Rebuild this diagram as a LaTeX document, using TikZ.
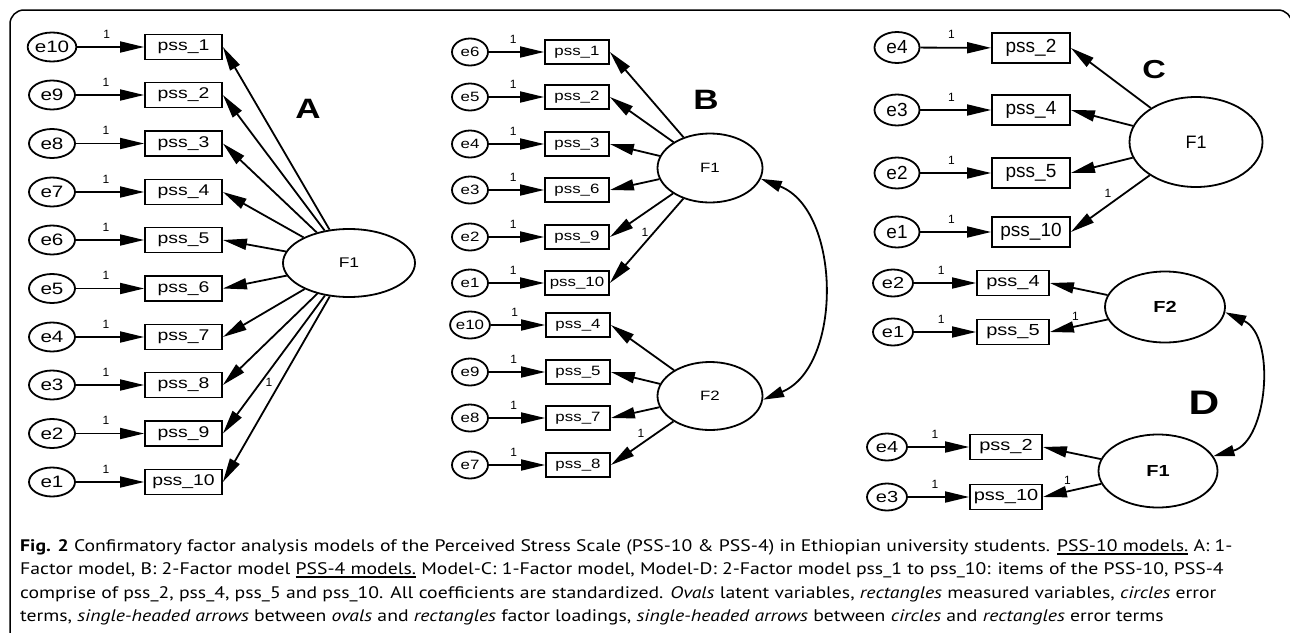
\documentclass[tikz,border=0pt]{standalone}
\usepackage{fontspec}
\setmainfont[FakeStretch=1.18]{PT Sans}
\newfontfamily\dgfont[FakeStretch=1.25]{Liberation Sans}
\newfontfamily\dgplain{Liberation Sans}
\usetikzlibrary{arrows.meta,shapes.geometric}

\newcommand{\ulnk}[1]{\setbox0\hbox{#1}\rlap{\rule[-3.5pt]{\wd0}{2pt}}\box0\relax}

\tikzset{errA/.style={main, ellipse, minimum width=46pt, minimum height=29pt, font=\dgfont\fontsize{16.5}{16.5}\selectfont}}
\tikzset{itemA/.style={main, rectangle, minimum width=77pt, minimum height=25pt, font=\dgfont\fontsize{15.5}{15.5}\selectfont}}
\tikzset{errB/.style={main, ellipse, minimum width=36pt, minimum height=27pt, font=\dgfont\fontsize{13.5}{13.5}\selectfont}}
\tikzset{itemB/.style={main, rectangle, minimum width=64pt, minimum height=24pt, font=\dgfont\fontsize{13.5}{13.5}\selectfont}}
\tikzset{errC/.style={main, ellipse, minimum width=45pt, minimum height=31pt, font=\dgplain\fontsize{19}{19}\selectfont}}
\tikzset{itemC/.style={main, rectangle, minimum width=78pt, minimum height=30pt, font=\dgplain\fontsize{19}{19}\selectfont}}
\tikzset{errD/.style={main, ellipse, minimum width=40pt, minimum height=27pt, font=\dgfont\fontsize{16}{16}\selectfont}}
\tikzset{itemD/.style={main, rectangle, minimum width=72pt, minimum height=25pt, font=\dgfont\fontsize{16}{16}\selectfont}}
\tikzset{lat/.style={main, ellipse, font=\dgfont\fontsize{14}{14}\selectfont}}
\tikzset{arr/.style={-{Triangle[length=24pt,width=11pt]}, line width=1.8pt}}
\tikzset{cov/.style={{Triangle[length=21pt,width=11pt]}-{Triangle[length=21pt,width=11pt]}, line width=1.8pt}}
\tikzset{one/.style={inner sep=0pt, font=\dgplain\fontsize{12}{12}\selectfont}}
\tikzset{eone/.style={one, pos=0.44, yshift=13pt}}
\tikzset{big/.style={inner sep=0pt, font=\dgfont\bfseries\fontsize{28}{28}\selectfont}}
\tikzset{capline/.style={anchor=base west, inner sep=0pt, font=\fontsize{16.7}{20}\selectfont}}

\begin{document}
\begin{tikzpicture}[x=1pt, y=-1pt, main/.style={draw, line width=1.8pt, inner sep=0pt}]
    \useasboundingbox (0,0) rectangle (1290,632);
    \clip (0,0) rectangle (1290,632);
    \draw[line width=1.5pt, rounded corners=14pt] (10,660) -- (10,10) -- (1292,10) -- (1292,660);

    % A: 1-factor PSS-10
    \node[errA] (ae10) at (52,47) {e10};
    \node[errA] (ae9) at (52,95) {e9};
    \node[errA] (ae8) at (52,143.5) {e8};
    \node[errA] (ae7) at (52,192) {e7};
    \node[errA] (ae6) at (52,240) {e6};
    \node[errA] (ae5) at (52,288.5) {e5};
    \node[errA] (ae4) at (52,337) {e4};
    \node[errA] (ae3) at (52,385) {e3};
    \node[errA] (ae2) at (52,433.5) {e2};
    \node[errA] (ae1) at (52,482) {e1};
    \node[itemA] (ap1) at (183.5,47) {pss\_1};
    \node[itemA] (ap2) at (183.5,95) {pss\_2};
    \node[itemA] (ap3) at (183.5,143.5) {pss\_3};
    \node[itemA] (ap4) at (183.5,192) {pss\_4};
    \node[itemA] (ap5) at (183.5,240) {pss\_5};
    \node[itemA] (ap6) at (183.5,288.5) {pss\_6};
    \node[itemA] (ap7) at (183.5,337) {pss\_7};
    \node[itemA] (ap8) at (183.5,385) {pss\_8};
    \node[itemA] (ap9) at (183.5,433.5) {pss\_9};
    \node[itemA] (ap10) at (183.5,482) {pss\_10};
    \node[lat, minimum width=132pt, minimum height=68pt] (aF1) at (349,263) {F1};
    \node[big] (aA) at (308,109) {A};

    \draw[arr] (ae10) -- node[eone] {1} (ap1);
    \draw[arr] (ae9) -- node[eone] {1} (ap2);
    \draw[arr] (ae8) -- node[eone] {1} (ap3);
    \draw[arr] (ae7) -- node[eone] {1} (ap4);
    \draw[arr] (ae6) -- node[eone] {1} (ap5);
    \draw[arr] (ae5) -- node[eone] {1} (ap6);
    \draw[arr] (ae4) -- node[eone] {1} (ap7);
    \draw[arr] (ae3) -- node[eone] {1} (ap8);
    \draw[arr] (ae2) -- node[eone] {1} (ap9);
    \draw[arr] (ae1) -- node[eone] {1} (ap10);
    \draw[arr] (aF1) -- (ap1.east);
    \draw[arr] (aF1) -- (ap2.east);
    \draw[arr] (aF1) -- (ap3.east);
    \draw[arr] (aF1) -- (ap4.east);
    \draw[arr] (aF1) -- (ap5.east);
    \draw[arr] (aF1) -- (ap6.east);
    \draw[arr] (aF1) -- (ap7.east);
    \draw[arr] (aF1) -- (ap8.east);
    \draw[arr] (aF1) -- (ap9.east);
    \draw[arr] (aF1) -- node[one, pos=0.465, xshift=-11pt] {1} (ap10.east);

    % B: 2-factor PSS-10
    \node[errB] (be6) at (470,52) {e6};
    \node[errB] (be5) at (470,97) {e5};
    \node[errB] (be4) at (470,144) {e4};
    \node[errB] (be3) at (470,190) {e3};
    \node[errB] (be2) at (470,237) {e2};
    \node[errB] (be1) at (470,283) {e1};
    \node[errB] (be10) at (470,325) {e10};
    \node[errB] (be9) at (470,372) {e9};
    \node[errB] (be8) at (470,418) {e8};
    \node[errB] (be7) at (470,465) {e7};
    \node[itemB] (bp1) at (577,52) {pss\_1};
    \node[itemB] (bp2) at (577,97) {pss\_2};
    \node[itemB] (bp3) at (577,144) {pss\_3};
    \node[itemB] (bp6) at (577,190) {pss\_6};
    \node[itemB] (bp9) at (577,237) {pss\_9};
    \node[itemB] (bp10) at (577,283) {pss\_10};
    \node[itemB] (bp4) at (578,325) {pss\_4};
    \node[itemB] (bp5) at (578,372) {pss\_5};
    \node[itemB] (bp7) at (578,418) {pss\_7};
    \node[itemB] (bp8) at (578,465) {pss\_8};
    \node[lat, minimum width=105pt, minimum height=69pt, font=\dgfont\fontsize{13.5}{13.5}\selectfont] (bF1) at (710,168) {F1};
    \node[lat, minimum width=105pt, minimum height=68pt, font=\dgfont\fontsize{13.5}{13.5}\selectfont] (bF2) at (710,396) {F2};
    \node[big] (bB) at (706,100) {B};

    \draw[arr] (be6) -- node[eone] {1} (bp1);
    \draw[arr] (be5) -- node[eone] {1} (bp2);
    \draw[arr] (be4) -- node[eone] {1} (bp3);
    \draw[arr] (be3) -- node[eone] {1} (bp6);
    \draw[arr] (be2) -- node[eone] {1} (bp9);
    \draw[arr] (be1) -- node[eone] {1} (bp10);
    \draw[arr] (be10) -- node[eone] {1} (bp4);
    \draw[arr] (be9) -- node[eone] {1} (bp5);
    \draw[arr] (be8) -- node[eone] {1} (bp7);
    \draw[arr] (be7) -- node[eone] {1} (bp8);
    \draw[arr] (bF1) -- (bp1.east);
    \draw[arr] (bF1) -- (bp2.east);
    \draw[arr] (bF1) -- (bp3.east);
    \draw[arr] (bF1) -- (bp6.east);
    \draw[arr] (bF1) -- (bp9.east);
    \draw[arr] (bF1) -- node[one, pos=0.4, xshift=-9pt] {1} (bp10.east);
    \draw[arr] (bF2) -- (bp4.east);
    \draw[arr] (bF2) -- (bp5.east);
    \draw[arr] (bF2) -- (bp7.east);
    \draw[arr] (bF2) -- node[one, pos=0.52, yshift=11pt] {1} (bp8.east);
    \draw[cov] (bF1.-12) to[bend left=68] (bF2.-4);

    % C: 1-factor PSS-4
    \node[errC] (ce4) at (897,47.5) {e4};
    \node[errC] (ce3) at (897,110) {e3};
    \node[errC] (ce2) at (897,173) {e2};
    \node[errC] (ce1) at (897,232) {e1};
    \node[itemC] (cp2) at (1031,48) {pss\_2};
    \node[itemC] (cp4) at (1031,110) {pss\_4};
    \node[itemC] (cp5) at (1031,173) {pss\_5};
    \node[itemC] (cp10) at (1031,232) {pss\_10};
    \node[lat, minimum width=133pt, minimum height=90pt, font=\dgplain\fontsize{18}{18}\selectfont] (cF1) at (1196,142) {F1};
    \node[big, font=\dgfont\bfseries\fontsize{26}{26}\selectfont] (cC) at (1154,70) {C};

    \draw[arr] (ce4) -- node[eone] {1} (cp2);
    \draw[arr] (ce3) -- node[eone] {1} (cp4);
    \draw[arr] (ce2) -- node[eone] {1} (cp5);
    \draw[arr] (ce1) -- node[eone] {1} (cp10);
    \draw[arr] (cF1) -- (cp2.east);
    \draw[arr] (cF1) -- (cp4.east);
    \draw[arr] (cF1) -- (cp5.east);
    \draw[arr] (cF1) -- node[one, pos=0.53, yshift=12pt] {1} (cp10.east);

    % D: 2-factor PSS-4
    \node[errD] (de2) at (893,283) {e2};
    \node[errD] (de1) at (893,332) {e1};
    \node[errD] (de4) at (887,447) {e4};
    \node[errD] (de3) at (887,497) {e3};
    \node[itemD] (dp4) at (1013,283) {pss\_4};
    \node[itemD] (dp5) at (1013,332) {pss\_5};
    \node[itemD] (dp2) at (1006,447) {pss\_2};
    \node[itemD] (dp10) at (1006,497) {pss\_10};
    \node[lat, minimum width=120pt, minimum height=71pt, font=\dgfont\bfseries\fontsize{16}{16}\selectfont] (dF2) at (1165,307) {F2};
    \node[lat, minimum width=119pt, minimum height=73pt, font=\dgfont\bfseries\fontsize{16}{16}\selectfont] (dF1) at (1158,471) {F1};
    \node[big, font=\dgfont\bfseries\fontsize{34}{34}\selectfont] (dD) at (1204,403) {D};

    \draw[arr] (de2) -- node[eone] {1} (dp4);
    \draw[arr] (de1) -- node[eone] {1} (dp5);
    \draw[arr] (de4) -- node[eone] {1} (dp2);
    \draw[arr] (de3) -- node[eone] {1} (dp10);
    \draw[arr] (dF2) -- (dp4.east);
    \draw[arr] (dF2) -- node[one, pos=0.56, yshift=10pt] {1} (dp5.east);
    \draw[arr] (dF1) -- (dp2.east);
    \draw[arr] (dF1) -- node[one, pos=0.58, yshift=11pt] {1} (dp10.east);
    \draw[cov] (dF2.-5) to[bend left=70] (dF1.15);

    % caption
    \node[capline] (cap1) at (20,551) {\textbf{Fig. 2} Confirmatory factor analysis models of the Perceived Stress Scale (PSS-10 \& PSS-4) in Ethiopian university students. \ulnk{PSS-10 models.} A: 1-};
    \node[capline] (cap2) at (20,574.5) {Factor model, B: 2-Factor model \ulnk{PSS-4 models.} Model-C: 1-Factor model, Model-D: 2-Factor model pss\_1 to pss\_10: items of the PSS-10, PSS-4};
    \node[capline] (cap3) at (20,598) {comprise of pss\_2, pss\_4, pss\_5 and pss\_10. All coefficients are standardized. \textit{Ovals} latent variables, \textit{rectangles} measured variables, \textit{circles} error};
    \node[capline] (cap4) at (20,621.5) {terms, \textit{single-headed arrows} between \textit{ovals} and \textit{rectangles} factor loadings, \textit{single-headed arrows} between \textit{circles} and \textit{rectangles} error terms};
\end{tikzpicture}
\end{document}
